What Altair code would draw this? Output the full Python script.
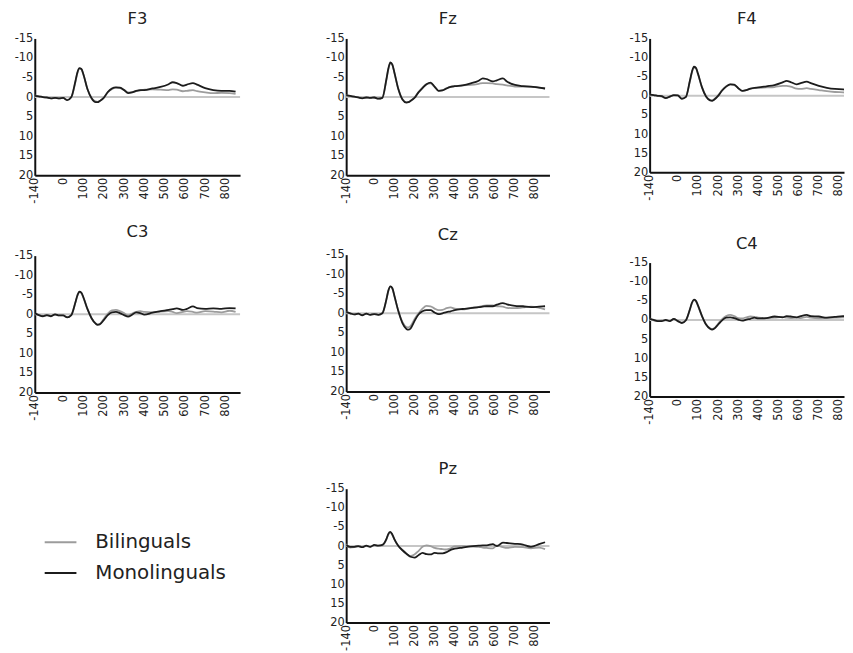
import altair as alt
import pandas as pd

times = [-140, -120, -100, -80, -60, -40, -20, 0, 20, 40, 60, 70, 80, 90, 100,
         120, 140, 160, 170, 180, 200, 220, 240, 260, 280, 300, 320, 340, 360, 380,
         400, 440, 480, 520, 540, 560, 590, 610, 640, 660, 700, 740, 780, 820, 850]

groups = ["Bilinguals", "Monolinguals"]
x_ticks = [-140, 0, 100, 200, 300, 400, 500, 600, 700, 800]
y_ticks = [-15, -10, -5, 0, 5, 10, 15, 20]

f3_bi = [-0.4, -0.2, 0.0, 0.2, 0.3, 0.2, 0.3, 0.2, 0.7, 0.1, -3.8, -6.1, -7.3, -7.1, -5.7,
         -2.0, 0.2, 1.1, 1.2, 1.0, 0.1, -1.2, -2.0, -2.4, -2.3, -1.9, -1.2, -1.3, -1.5, -1.7,
         -1.9, -2.0, -1.9, -1.8, -2.0, -1.9, -1.5, -1.6, -1.8, -1.5, -1.2, -1.0, -1.1, -1.0, -0.8]
f3_mono = [-0.3, -0.2, 0.0, 0.1, 0.3, 0.2, 0.3, 0.2, 0.8, 0.0, -4.0, -6.3, -7.4, -7.2, -5.8,
           -2.0, 0.3, 1.3, 1.3, 1.0, 0.2, -1.3, -2.2, -2.5, -2.4, -1.8, -1.0, -1.2, -1.6, -1.8,
           -1.8, -2.2, -2.6, -3.3, -3.8, -3.6, -2.9, -3.2, -3.6, -3.2, -2.3, -1.8, -1.6, -1.6, -1.4]

fz_bi = [-0.5, -0.3, -0.1, 0.1, 0.2, 0.1, 0.2, 0.1, 0.4, 0.2, -4.3, -7.1, -8.7, -8.2, -6.2,
         -2.0, 0.5, 1.3, 1.3, 1.0, 0.1, -1.3, -2.4, -3.3, -3.5, -2.6, -1.6, -1.8, -2.3, -2.7,
         -2.8, -3.0, -3.1, -3.4, -3.6, -3.6, -3.5, -3.3, -3.2, -3.0, -2.7, -2.7, -2.6, -2.4, -2.2]
fz_mono = [-0.5, -0.3, -0.1, 0.1, 0.3, 0.1, 0.2, 0.1, 0.4, 0.2, -4.5, -7.3, -8.9, -8.3, -6.3,
           -2.0, 0.6, 1.4, 1.3, 1.0, 0.2, -1.2, -2.3, -3.3, -3.7, -2.7, -1.6, -1.7, -2.2, -2.6,
           -2.8, -3.0, -3.5, -4.2, -4.8, -4.6, -4.0, -4.3, -4.8, -4.0, -3.1, -2.8, -2.7, -2.4, -2.2]

f4_bi = [-0.3, -0.2, 0.0, 0.2, 0.5, 0.2, -0.1, -0.1, 0.7, 0.3, -3.8, -6.1, -7.4, -7.2, -5.7,
         -2.2, 0.1, 1.1, 1.2, 0.9, -0.1, -1.5, -2.5, -3.0, -2.8, -2.0, -1.3, -1.5, -1.8, -2.0,
         -2.1, -2.2, -2.3, -2.6, -2.6, -2.4, -1.9, -1.8, -2.0, -1.8, -1.5, -1.2, -1.0, -0.9, -0.8]
f4_mono = [-0.3, -0.2, 0.0, 0.1, 0.6, 0.2, -0.2, -0.1, 0.8, 0.3, -4.0, -6.3, -7.6, -7.3, -5.8,
           -2.2, 0.2, 1.2, 1.3, 1.0, 0.0, -1.4, -2.4, -3.0, -2.9, -2.0, -1.3, -1.5, -1.9, -2.1,
           -2.2, -2.5, -2.8, -3.5, -3.9, -3.6, -3.0, -3.3, -3.7, -3.3, -2.6, -2.1, -1.8, -1.7, -1.5]

c3_bi = [-0.2, 0.2, 0.4, 0.3, 0.4, 0.1, 0.3, 0.3, 0.7, 0.2, -2.9, -4.7, -5.7, -5.4, -4.2,
         -1.3, 1.0, 2.3, 2.6, 2.5, 1.2, -0.2, -1.0, -1.1, -0.8, -0.3, 0.3, -0.2, -0.6, -0.8,
         -0.6, -0.5, -0.7, -0.8, -0.6, -0.3, -0.6, -0.8, -0.6, -0.4, -0.8, -0.7, -0.5, -0.9, -0.6]
c3_mono = [-0.3, 0.2, 0.5, 0.2, 0.5, 0.0, 0.3, 0.3, 0.8, 0.2, -3.0, -4.8, -5.8, -5.5, -4.3,
           -1.3, 1.0, 2.4, 2.7, 2.6, 1.5, 0.2, -0.5, -0.6, -0.3, 0.2, 0.6, 0.1, -0.5, -0.3,
           0.1, -0.4, -0.8, -1.1, -1.3, -1.5, -1.1, -1.4, -2.0, -1.6, -1.4, -1.5, -1.4, -1.6, -1.5]

cz_bi = [-0.3, 0.0, 0.3, 0.1, 0.4, 0.1, 0.4, 0.2, 0.4, 0.0, -3.4, -5.7, -6.8, -6.3, -4.4,
         -0.6, 2.2, 3.5, 3.6, 3.3, 1.5, 0.0, -1.2, -1.9, -1.8, -1.2, -0.8, -0.9, -1.3, -1.5,
         -1.2, -1.0, -1.4, -1.6, -1.9, -2.0, -2.0, -1.8, -1.7, -1.4, -1.3, -1.5, -1.7, -1.4, -1.0]
cz_mono = [-0.3, 0.0, 0.3, 0.1, 0.5, 0.1, 0.4, 0.2, 0.4, 0.0, -3.5, -5.8, -6.9, -6.4, -4.5,
           -0.5, 2.5, 4.0, 4.2, 3.9, 2.0, 0.3, -0.5, -0.8, -0.8, -0.2, 0.2, 0.0, -0.3, -0.5,
           -0.8, -1.1, -1.3, -1.6, -1.7, -1.8, -1.8, -2.2, -2.6, -2.3, -1.9, -1.8, -1.6, -1.7, -1.8]

c4_bi = [-0.4, 0.1, 0.3, 0.2, 0.1, 0.3, -0.2, 0.3, 0.7, 0.1, -2.7, -4.4, -5.2, -4.9, -3.7,
         -1.0, 1.1, 2.2, 2.4, 2.2, 1.0, -0.2, -1.0, -1.3, -1.0, -0.5, -0.4, -0.7, -0.9, -0.8,
         -0.6, -0.5, -0.6, -0.8, -0.6, -0.5, -0.6, -0.5, -0.8, -0.6, -0.4, -0.5, -0.6, -0.7, -0.5]
c4_mono = [-0.3, 0.0, 0.3, 0.3, 0.0, 0.3, -0.3, 0.3, 0.8, 0.1, -2.8, -4.5, -5.3, -5.0, -3.8,
           -1.0, 1.2, 2.3, 2.5, 2.3, 1.2, 0.1, -0.6, -0.7, -0.5, -0.1, 0.2, -0.1, -0.3, -0.6,
           -0.4, -0.5, -0.9, -0.7, -1.0, -0.9, -0.7, -1.0, -1.3, -1.0, -0.9, -0.6, -0.8, -1.0, -0.9]

pz_bi = [-0.5, 0.4, 0.3, 0.1, 0.2, 0.0, 0.2, -0.2, -0.1, -0.2, -1.7, -3.0, -3.5, -2.9, -1.7,
         0.0, 1.0, 2.0, 2.5, 2.6, 2.2, 1.3, 0.2, -0.2, 0.0, 0.5, 0.7, 0.8, 0.9, 0.6,
         0.1, 0.0, 0.1, 0.2, 0.4, 0.5, 0.6, -0.2, 0.3, 0.5, 0.2, 0.3, 0.6, 0.4, 0.8]
pz_mono = [-0.3, 0.2, 0.2, 0.0, 0.3, -0.1, 0.2, -0.3, -0.1, -0.3, -1.8, -3.2, -3.7, -3.0, -1.8,
           0.0, 1.1, 2.0, 2.4, 2.8, 3.0, 2.4, 1.8, 2.1, 2.2, 1.8, 1.9, 1.9, 1.6, 1.0,
           0.7, 0.4, 0.1, -0.1, -0.2, -0.2, -0.5, 0.0, -0.9, -0.8, -0.6, -0.4, 0.2, -0.5, -1.0]

series = {
    "F3": (f3_bi, f3_mono), "Fz": (fz_bi, fz_mono), "F4": (f4_bi, f4_mono),
    "C3": (c3_bi, c3_mono), "Cz": (cz_bi, cz_mono), "C4": (c4_bi, c4_mono),
    "Pz": (pz_bi, pz_mono),
}

rows = []
for name, (bi, mono) in series.items():
    for g, vals in zip(groups, (bi, mono)):
        for t, v in zip(times, vals):
            rows.append({"panel": name, "group": g, "time": t, "value": v})
df = pd.DataFrame(rows)
zero_df = pd.DataFrame({"level": [0]})

FONT = "DejaVu Sans"

color_scale = alt.Scale(domain=groups, range=["#9c9c9c", "#1c1c1c"])
legend = alt.Legend(orient="none", legendX=9, legendY=491, title=None,
                    symbolType="stroke", symbolSize=1024, symbolStrokeWidth=2,
                    labelFont=FONT, labelFontSize=20, labelColor="#222",
                    labelOffset=18, rowPadding=4)

y_axis = alt.Axis(values=y_ticks, labelFlush=False, labelOverlap=False,
                  labelExpr="'' + datum.value")
x_axis = alt.Axis(values=x_ticks, labelAngle=270, labelFlush=False,
                  labelOverlap=False, labelExpr="'' + datum.value")


def panel(name, width, height, xmax, title_offset):
    yscale = alt.Scale(domain=[-15, 20], reverse=True, nice=False, zero=False)
    x = alt.X("time:Q", title=None,
              scale=alt.Scale(domain=[-140, xmax], nice=False, zero=False),
              axis=x_axis)
    y = alt.Y("value:Q", title=None, scale=yscale, axis=y_axis)
    zero = alt.Chart(zero_df).mark_rule(color="#c6c6c6", strokeWidth=2).encode(
        y=alt.Y("level:Q", title=None, scale=yscale, axis=y_axis))
    base = alt.Chart(df).transform_filter(alt.datum.panel == name)
    lines = []
    for g in groups:
        lines.append(
            base.transform_filter(alt.datum.group == g)
            .mark_line(strokeWidth=1.8, interpolate="monotone", clip=True)
            .encode(x=x, y=y, color=alt.Color("group:N", scale=color_scale, legend=legend))
        )
    return alt.layer(zero, *lines).properties(
        width=width, height=height,
        title=alt.TitleParams(name, offset=title_offset))


f3 = panel("F3", 207, 138, 872, 5)
fz = panel("Fz", 205, 138, 872, 5)
f4 = panel("F4", 196, 135, 825, 5)
c3 = panel("C3", 207, 138, 872, 9)
cz = panel("Cz", 205, 138, 872, 5)
c4 = panel("C4", 196, 135, 825, 4)
pz = panel("Pz", 205, 135, 872, 5)

col1 = alt.vconcat(f3, c3, spacing=20)
col2 = alt.vconcat(alt.vconcat(fz, cz, spacing=23), pz, spacing=41)
col3 = alt.vconcat(f4, c4, spacing=35)

chart = alt.hconcat(alt.hconcat(col1, col2, spacing=85), col3, spacing=79).properties(
    padding={"left": 6, "top": 0, "right": 0, "bottom": 0}
).configure_view(stroke=None).configure_axis(
    domainColor="#111", domainWidth=2, ticks=False, grid=False,
    labelFont=FONT, labelFontSize=11.5, labelColor="#222", labelPadding=2,
    labelOverlap=False,
).configure_title(
    font=FONT, fontSize=16.5, fontWeight="normal", color="#222", anchor="middle"
)

chart.save("out.html", embed_options={"renderer": "svg", "actions": False})
